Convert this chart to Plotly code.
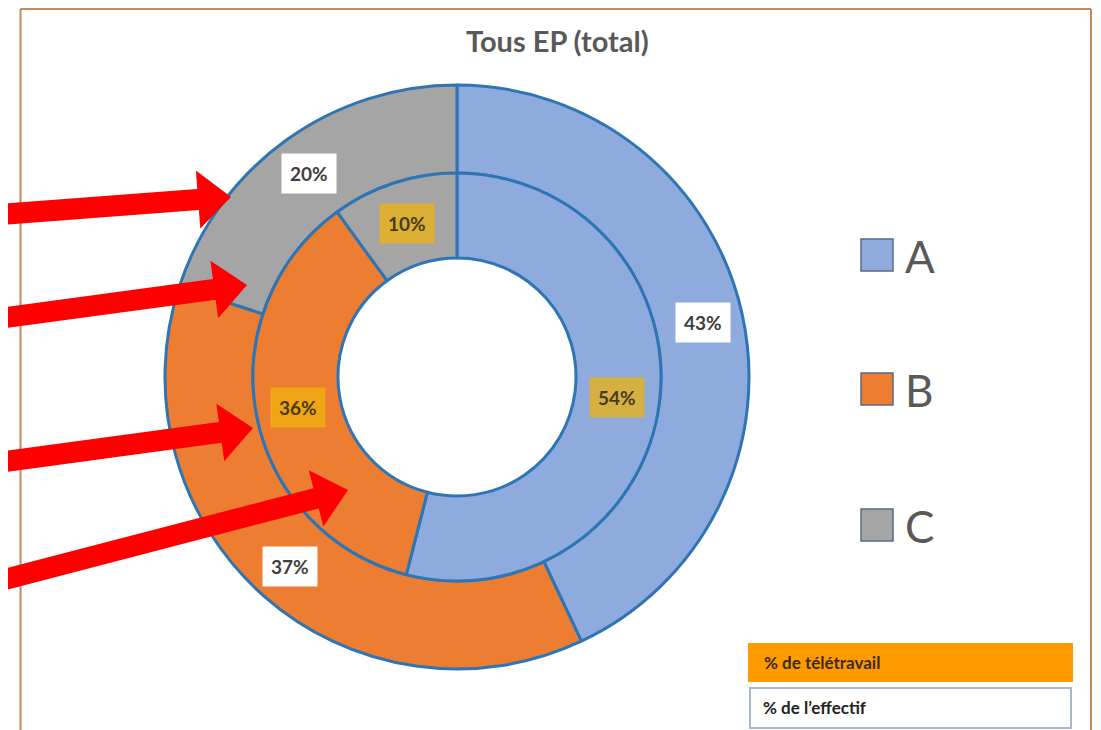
import math
import plotly.graph_objects as go

# ---- data ----
categories = ["A", "B", "C"]
effectif = [43, 37, 20]      # outer ring: % de l'effectif
teletravail = [54, 36, 10]   # inner ring: % de télétravail
colors = ["#8FAADC", "#ED7D31", "#A5A5A5"]
title_text = "Tous EP (total)"
box_labels = ["% de télétravail", "% de l\u2019effectif"]

W, H = 1101, 730
OFF = 8  # page body margin offset
CX, CY = 457, 377
R_OUT, R_MID, R_HOLE = 292, 204, 119


def px(x):
    return (x - OFF) / W


def py(y):
    return 1 - (y - OFF) / H


def domain(r):
    return dict(x=[px(CX - r), px(CX + r)], y=[py(CY + r), py(CY - r)])


fig = go.Figure()
line = dict(color="#2E75B6", width=3)
fig.add_trace(go.Pie(labels=categories, values=effectif, sort=False,
                     direction="clockwise", rotation=0, hole=R_MID / R_OUT,
                     marker=dict(colors=colors, line=line), textinfo="none",
                     hoverinfo="label+percent", domain=domain(R_OUT)))
fig.add_trace(go.Pie(labels=categories, values=teletravail, sort=False,
                     direction="clockwise", rotation=0, hole=R_HOLE / R_MID,
                     marker=dict(colors=colors, line=line), textinfo="none",
                     hoverinfo="label+percent", domain=domain(R_MID)))

annotations = []
shapes = []


def ring_labels(values, r, bg, fcolor):
    tot = sum(values)
    cum = 0
    for v in values:
        mid = (cum + v / 2) / tot
        cum += v
        a = 2 * math.pi * mid
        x = CX + r * math.sin(a)
        y = CY - r * math.cos(a)
        annotations.append(dict(x=px(x), y=py(y), xref="paper", yref="paper",
                                xanchor="center", yanchor="middle",
                                text=f"<b>{round(v / tot * 100)}%</b>", showarrow=False,
                                bgcolor=bg, borderpad=8,
                                font=dict(family="Lato", size=19, color=fcolor)))


ring_labels(effectif, (R_OUT + R_MID) / 2 + 4, "white", "#404040")
ring_labels(teletravail, (R_MID + R_HOLE) / 2, "rgba(240,180,10,0.72)", "#4A3C18")

# title
annotations.append(dict(x=px(557), y=py(41), xref="paper", yref="paper",
                        xanchor="center", yanchor="middle",
                        text="<b>" + title_text + "</b>", showarrow=False,
                        font=dict(family="Lato", size=29, color="#595959")))

# manual legend
leg_y = [255, 389, 525]
for cat, col, yy in zip(categories, colors, leg_y):
    shapes.append(dict(type="rect", xref="paper", yref="paper",
                       x0=px(861), x1=px(893), y0=py(yy + 16), y1=py(yy - 16),
                       fillcolor=col, line=dict(color="#5A6A88", width=1.5)))
    annotations.append(dict(x=px(903), y=py(yy + 1), xref="paper", yref="paper",
                            xanchor="left", yanchor="middle", text=cat, showarrow=False,
                            font=dict(family="Lato", size=44, color="#595959")))

# bottom right boxes
shapes.append(dict(type="rect", xref="paper", yref="paper",
                   x0=px(748), x1=px(1073), y0=py(682), y1=py(643),
                   fillcolor="#FF9B00", line=dict(width=0)))
shapes.append(dict(type="rect", xref="paper", yref="paper",
                   x0=px(750), x1=px(1071), y0=py(728), y1=py(688),
                   fillcolor="white", line=dict(color="#A8B8D0", width=2)))
annotations.append(dict(x=px(762), y=py(662), xref="paper", yref="paper",
                        xanchor="left", yanchor="middle",
                        text="<b>" + box_labels[0] + "</b>", showarrow=False,
                        font=dict(family="Lato", size=17, color="#3A2A10")))
annotations.append(dict(x=px(761), y=py(707), xref="paper", yref="paper",
                        xanchor="left", yanchor="middle",
                        text="<b>" + box_labels[1] + "</b>", showarrow=False,
                        font=dict(family="Lato", size=17, color="#222222")))

# frame
frame = dict(color="#C08A5A", width=2)
shapes.append(dict(type="line", xref="paper", yref="paper",
                   x0=px(20.5), x1=px(20.5), y0=py(740), y1=py(9), line=frame))
shapes.append(dict(type="line", xref="paper", yref="paper",
                   x0=px(1091), x1=px(1091), y0=py(740), y1=py(9), line=frame))
shapes.append(dict(type="line", xref="paper", yref="paper",
                   x0=px(20.5), x1=px(1091), y0=py(9), y1=py(9), line=frame))

# red arrows (tail, tip) in pixels
arrows = [((-20, 216), (231, 197)),
          ((-20, 321), (247, 285)),
          ((-20, 465), (253, 428)),
          ((-20, 586), (348, 490))]
SW, HW, HL = 10.5, 29, 33
for (x0, y0), (x1, y1) in arrows:
    dx, dy = x1 - x0, y1 - y0
    L = math.hypot(dx, dy)
    ux, uy = dx / L, dy / L
    nx, ny = -uy, ux
    bx, by = x1 - ux * HL, y1 - uy * HL
    pts = [(x0 + nx * SW, y0 + ny * SW), (bx + nx * SW, by + ny * SW),
           (bx + nx * HW, by + ny * HW), (x1, y1),
           (bx - nx * HW, by - ny * HW), (bx - nx * SW, by - ny * SW),
           (x0 - nx * SW, y0 - ny * SW)]
    path = "M " + " L ".join(f"{px(a)},{py(b)}" for a, b in pts) + " Z"
    shapes.append(dict(type="path", xref="paper", yref="paper", path=path,
                       fillcolor="#FF0000", line=dict(width=0), layer="above"))

fig.update_layout(width=W, height=H, margin=dict(l=0, r=0, t=0, b=0),
                  paper_bgcolor="white", plot_bgcolor="white", showlegend=False,
                  annotations=annotations, shapes=shapes)
fig.write_html("out.html")
